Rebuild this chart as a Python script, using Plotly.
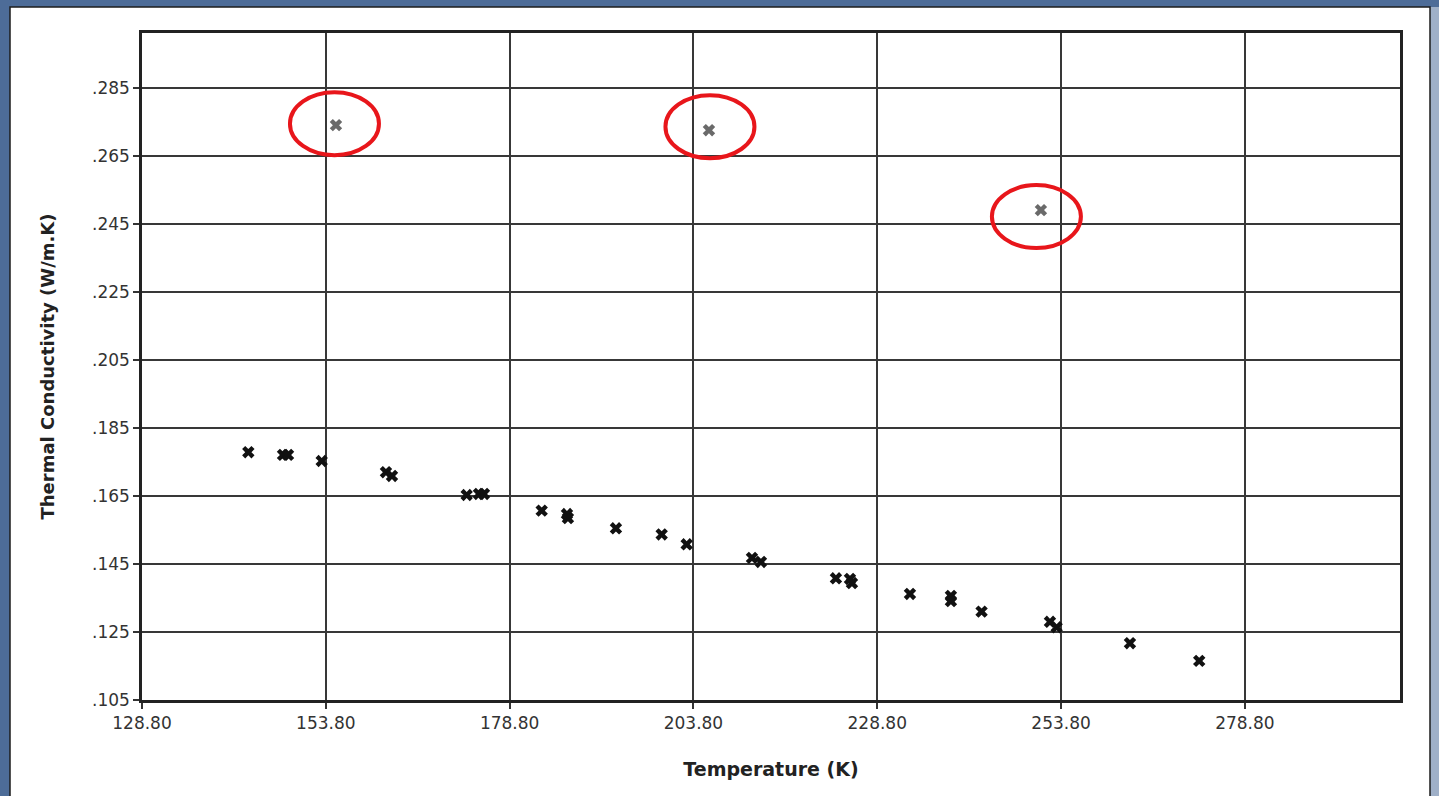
import plotly.graph_objects as go

# ---- data ----
temperature_k = [143.26, 147.98, 148.66, 153.24, 161.98, 162.80, 172.96, 174.63, 175.31,
                 183.16, 186.60, 186.73, 193.26, 199.48, 202.88, 211.76, 212.98, 223.18,
                 225.09, 225.36, 233.25, 238.82, 238.82, 242.99, 252.29, 253.20, 263.17, 272.59]
conductivity = [0.1779, 0.1771, 0.1771, 0.1753, 0.1720, 0.1709, 0.1653, 0.1656, 0.1656,
                0.1607, 0.1597, 0.1585, 0.1555, 0.1537, 0.1508, 0.1468, 0.1456, 0.1408,
                0.1406, 0.1394, 0.1362, 0.1356, 0.1341, 0.1310, 0.1280, 0.1264, 0.1217, 0.1165]

outlier_temperature_k = [155.18, 205.91, 251.06]
outlier_conductivity = [0.2741, 0.2726, 0.2491]

y_tick_values = [0.105, 0.125, 0.145, 0.165, 0.185, 0.205, 0.225, 0.245, 0.265, 0.285]
y_tick_labels = [".105", ".125", ".145", ".165", ".185", ".205", ".225", ".245", ".265", ".285"]
x_tick_values = [128.8, 153.8, 178.8, 203.8, 228.8, 253.8, 278.8]
x_tick_labels = ["128.80", "153.80", "178.80", "203.80", "228.80", "253.80", "278.80"]

# ellipse pixel offsets (centre relative to point) – styling of the highlight rings
ring_offsets = [(-1.5, 1.5), (1.0, 3.5), (-4.5, -6.5)]
RING_W, RING_H = 89, 63

W, H = 1439, 796
L, R, T, B = 142, 39, 33, 96
pw, ph = W - L - R, H - T - B

def px_x(p):
    return (p - L) / pw

def px_y(p):
    return 1 - (p - T) / ph

fig = go.Figure()

fig.add_trace(go.Scatter(
    x=temperature_k, y=conductivity, mode="markers",
    marker=dict(symbol="x", size=11, color="#111111", line=dict(width=0)),
    showlegend=False, hoverinfo="x+y"))

fig.add_trace(go.Scatter(
    x=outlier_temperature_k, y=outlier_conductivity, mode="markers",
    marker=dict(symbol="x", size=11, color="#6a6a6a", line=dict(width=0)),
    showlegend=False, hoverinfo="x+y"))

shapes = []
# window frame: right light strip, white panel on a blue frame
shapes.append(dict(type="rect", xref="paper", yref="paper", layer="below",
                   x0=px_x(1430), x1=px_x(1445), y0=px_y(7), y1=px_y(800),
                   fillcolor="#9fb0c8", line=dict(width=0)))
shapes.append(dict(type="rect", xref="paper", yref="paper", layer="below",
                   x0=px_x(10), x1=px_x(1430), y0=px_y(7), y1=px_y(800),
                   fillcolor="white", line=dict(color="#1c1c1c", width=1.5)))
# highlight rings
for (tx, ky), (dx, dy) in zip(zip(outlier_temperature_k, outlier_conductivity), ring_offsets):
    shapes.append(dict(type="circle", xref="x", yref="y",
                       xsizemode="pixel", ysizemode="pixel",
                       xanchor=tx, yanchor=ky,
                       x0=dx - RING_W / 2, x1=dx + RING_W / 2,
                       y0=dy - RING_H / 2, y1=dy + RING_H / 2,
                       line=dict(color="#e8161b", width=4), layer="above"))

fig.update_layout(
    width=W, height=H,
    margin=dict(l=L, r=R, t=T, b=B, pad=0),
    paper_bgcolor="#4d6c98",
    plot_bgcolor="white",
    shapes=shapes,
    font=dict(family="DejaVu Sans", color="#333333"),
)

fig.update_xaxes(
    range=[128.8, 299.9],
    tickvals=x_tick_values, ticktext=x_tick_labels,
    tickfont=dict(size=17, color="#333333", family="DejaVu Sans"),
    ticks="outside", ticklen=6, tickwidth=2, tickcolor="#333333",
    showgrid=True, gridcolor="#383838", gridwidth=2,
    showline=True, linecolor="#222222", linewidth=2.5, mirror=True,
    zeroline=False,
    title=dict(text="<b>Temperature (K)</b>", standoff=31,
               font=dict(size=19, color="#222222", family="DejaVu Sans")),
)

fig.update_yaxes(
    range=[0.105, 0.3012],
    tickvals=y_tick_values, ticktext=y_tick_labels,
    tickfont=dict(size=17, color="#333333", family="DejaVu Sans"),
    ticks="outside", ticklen=6, tickwidth=2, tickcolor="#333333",
    showgrid=True, gridcolor="#383838", gridwidth=2,
    showline=True, linecolor="#222222", linewidth=2.5, mirror=True,
    zeroline=False,
    title=dict(text="<b>Thermal Conductivity (W/m.K)</b>", standoff=33,
               font=dict(size=18, color="#222222", family="DejaVu Sans")),
)

fig.write_html("out.html")
